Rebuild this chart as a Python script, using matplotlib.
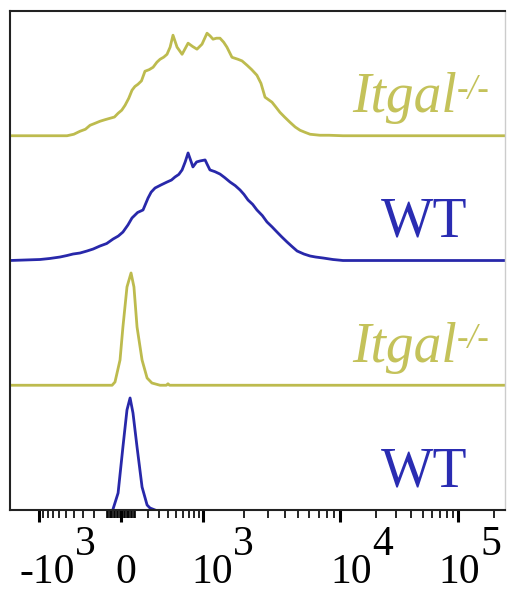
import numpy as np
import matplotlib
matplotlib.use("Agg")
from matplotlib import pyplot as plt

# Histograms on display channels (0-256) with heights as a fraction of one lane.
# Lanes from bottom to top: WT, Itgal-/-, WT, Itgal-/-

wt_lo_ch = [53.3, 55.9, 58.4, 60.5, 62.1, 63.6, 65.7, 68.3, 70.9, 72.4, 75.0]
wt_lo_h = [0.008, 0.136, 0.505, 0.802, 0.898, 0.778, 0.505, 0.184, 0.040, 0.016, 0.0]

itgal_lo_ch = [0, 52.8, 54.3, 56.9, 58.4, 60.5, 62.6, 64.1, 65.7, 68.3, 70.9, 73.4,
               77.6, 80.9, 81.7, 82.5, 256]
itgal_lo_h = [0, 0, 0.026, 0.202, 0.467, 0.788, 0.900, 0.788, 0.467, 0.202, 0.058, 0.018,
              0, 0, 0.012, 0, 0]

wt_hi_ch = [0, 15.5, 20.5, 25.9, 29.5, 32.6, 36.2, 39.8, 43.0, 46.5, 50.0, 53.3, 56.0,
            58.4, 61.0, 63.1, 66.0, 68.8, 71.4, 73.0, 75.0, 78.0, 81.2, 83.5, 85.3, 87.3,
            89.0, 90.6, 92.1, 93.5, 94.6, 96.5, 98.3, 100.9, 102.0, 103.4, 106.0, 108.6,
            111.0, 113.8, 116.5, 119.0, 121.0, 123.1, 125.5, 127.7, 130.5, 132.9, 135.5,
            138.1, 140.5, 143.3, 146.0, 148.5, 152.0, 155.2, 158.0, 161.9, 167.0, 172.2, 256]
wt_hi_h = [0, 0.008, 0.016, 0.028, 0.040, 0.052, 0.060, 0.076, 0.092, 0.116, 0.136, 0.172,
           0.196, 0.228, 0.285, 0.341, 0.385, 0.405, 0.501, 0.548, 0.581, 0.605, 0.629,
           0.645, 0.669, 0.690, 0.726, 0.790, 0.862, 0.800, 0.750, 0.790, 0.798, 0.806,
           0.770, 0.726, 0.712, 0.693, 0.665, 0.629, 0.600, 0.565, 0.530, 0.485, 0.450,
           0.405, 0.360, 0.309, 0.270, 0.228, 0.190, 0.148, 0.110, 0.076, 0.052, 0.036,
           0.028, 0.020, 0.008, 0.0, 0]

itgal_hi_ch = [0, 29.5, 33.0, 36.2, 39.0, 41.4, 44.0, 46.5, 49.0, 51.7, 54.0, 55.9, 57.8,
               59.5, 61.4, 63.1, 64.6, 66.2, 68.0, 69.8, 72.0, 74.0, 76.0, 77.6, 79.5,
               81.2, 82.8, 84.3, 86.4, 89.0, 92.1, 94.5, 96.7, 99.3, 101.9, 103.5, 105.0,
               106.8, 108.6, 110.5, 112.2, 114.8, 117.9, 120.0, 122.6, 125.0, 127.7,
               129.8, 131.9, 135.5, 137.5, 139.6, 142.0, 144.8, 147.5, 150.0, 152.5,
               155.2, 160.3, 165.0, 172.2, 256]
itgal_hi_h = [0, 0, 0.012, 0.036, 0.052, 0.084, 0.100, 0.116, 0.128, 0.140, 0.150, 0.180,
              0.205, 0.244, 0.300, 0.365, 0.395, 0.413, 0.440, 0.517, 0.530, 0.549, 0.590,
              0.613, 0.630, 0.653, 0.710, 0.806, 0.710, 0.653, 0.742, 0.715, 0.694, 0.734,
              0.822, 0.800, 0.774, 0.782, 0.782, 0.750, 0.710, 0.629, 0.613, 0.600, 0.565,
              0.530, 0.485, 0.420, 0.309, 0.269, 0.230, 0.188, 0.150, 0.108, 0.070, 0.044,
              0.028, 0.012, 0.004, 0.004, 0, 0]

lane_names = ["WT", "Itgal", "WT", "Itgal"]

# Biexponential-like axis: values -> display channel
anchor_vals = np.array([-1e3, 0, 1e3, 1e4, 1e5, 1e6])
anchor_ch = np.array([15.0, 57.4, 99.8, 170.7, 231.7, 292.7])


def to_channel(v):
    return np.interp(np.arcsinh(np.asarray(v, dtype=float) / 300.0),
                     np.arcsinh(anchor_vals / 300.0), anchor_ch)


major_vals = [-1e3, 0, 1e3, 1e4, 1e5]
major_base = ["-10", "0", "10", "10", "10"]
major_exp = ["3", "", "3", "4", "5"]
label_dx = [25.9, 3.6, 21.6, 23.0, 15.8]   # points

minor_vals = np.concatenate([np.arange(-900, 0, 100), np.arange(-90, 0, 10),
                             np.arange(10, 100, 10), np.arange(100, 1000, 100),
                             np.arange(2e3, 1e4, 1e3), np.arange(2e4, 1e5, 1e4), [2e5]])

yellow = "#bdbb4e"
yellow_txt = "#c4c25a"
blue = "#2828aa"
blue_txt = "#2a2cb2"
serif = "Liberation Serif"

fig = plt.figure(figsize=(5.08, 5.91), dpi=100)
ax = fig.add_axes([10 / 508, 81 / 591, 495 / 508, 499 / 591])

lanes = [(wt_lo_ch, wt_lo_h, blue), (itgal_lo_ch, itgal_lo_h, yellow),
         (wt_hi_ch, wt_hi_h, blue), (itgal_hi_ch, itgal_hi_h, yellow)]
for i, (ch, h, col) in enumerate(lanes):
    ax.plot(ch, np.array(h) + i, color=col, lw=2.0, solid_joinstyle="round")

ax.set_xlim(0, 256)
ax.set_ylim(0, 4)
ax.set_yticks([])
ax.set_xticks(to_channel(major_vals))
ax.set_xticklabels([])
ax.set_xticks(to_channel(minor_vals), minor=True)
ax.tick_params(axis="x", which="major", direction="out", length=8.5, width=2.2, color="black")
ax.tick_params(axis="x", which="minor", direction="out", length=5.5, width=1.2, color="black")

for s in ["left", "top", "bottom"]:
    ax.spines[s].set_color("#222222")
    ax.spines[s].set_linewidth(1.5)
ax.spines["right"].set_color("#cccccc")
ax.spines["right"].set_linewidth(1.0)

# tick labels with full-size raised exponents
for v, base, ex, dx in zip(major_vals, major_base, major_exp, label_dx):
    x = float(to_channel(v))
    if ex:
        ax.annotate(base, (x, 0), xycoords=("data", "axes fraction"), xytext=(dx, -52.5),
                    textcoords="offset points", ha="right", va="baseline", fontsize=30,
                    family=serif, annotation_clip=False)
        ax.annotate(ex, (x, 0), xycoords=("data", "axes fraction"), xytext=(dx, -32.4),
                    textcoords="offset points", ha="left", va="baseline", fontsize=30,
                    family=serif, annotation_clip=False)
    else:
        ax.annotate(base, (x, 0), xycoords=("data", "axes fraction"), xytext=(dx, -52.5),
                    textcoords="offset points", ha="center", va="baseline", fontsize=30,
                    family=serif, annotation_clip=False)

# lane labels
label_x = 214
for i, name in enumerate(lane_names):
    y = i + 0.19
    if name == "WT":
        ax.text(label_x, y, "WT", ha="center", va="baseline", fontsize=40,
                family=serif, color=blue_txt)
    else:
        ax.annotate("Itgal", (label_x, y), xytext=(23.8, 0), textcoords="offset points",
                    ha="right", va="baseline", fontsize=40, family=serif, style="italic",
                    color=yellow_txt)
        ax.annotate("-/-", (label_x, y), xytext=(23.8, 9.4), textcoords="offset points",
                    ha="left", va="baseline", fontsize=25, family=serif, style="italic",
                    color=yellow_txt)

plt.savefig("out.png", dpi=100)
